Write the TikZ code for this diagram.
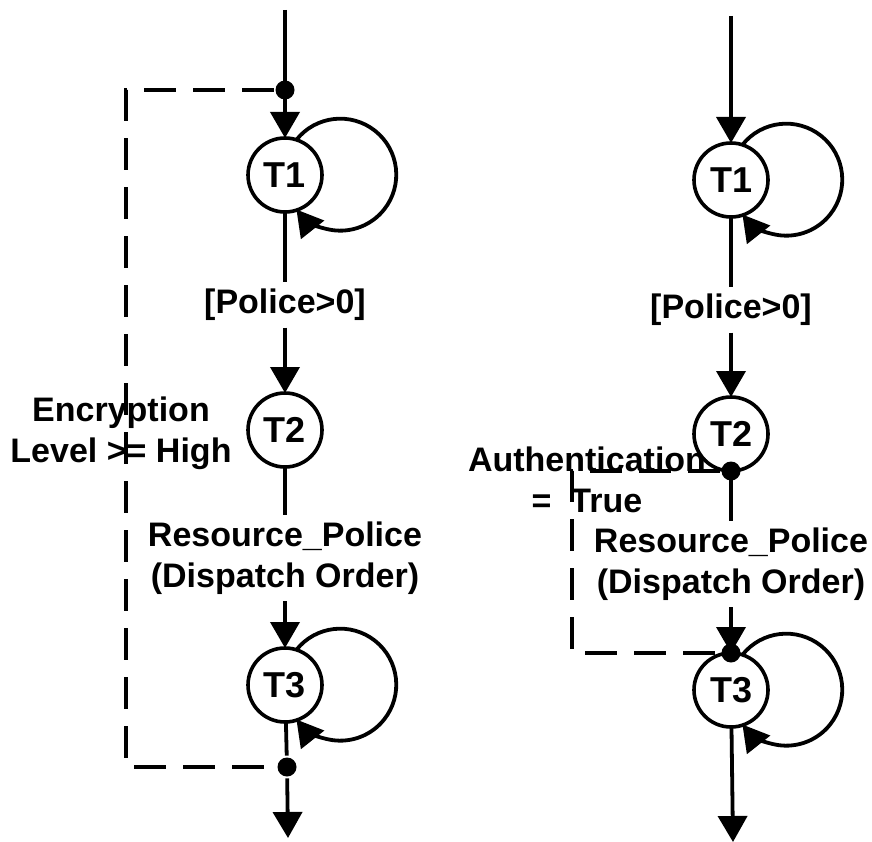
\documentclass[tikz,border=0pt]{standalone}
\usepackage{fontspec}
\setmainfont{Liberation Sans}
\usetikzlibrary{arrows.meta}
\tikzstyle{place}=[circle,draw,line width=3.6pt,minimum size=74pt,inner sep=0pt,outer sep=0pt,font=\fontsize{36}{40}\selectfont\bfseries]
\tikzstyle{lbl}=[font=\fontsize{34}{41}\selectfont\bfseries,align=center,inner sep=5pt]
\tikzstyle{dot}=[circle,fill,inner sep=0pt,minimum size=19pt]
\tikzstyle{dashline}=[line width=3.8pt,dash pattern=on 32pt off 17pt]
\newcommand{\selfloop}[1]{
% loop on the right side of a state
\draw[->] (#1.72) arc[start angle=141.5,end angle=-141.5,radius=56pt];
}

\begin{document}
\begin{tikzpicture}[x=1pt,y=1pt,line width=3.8pt,>={Triangle[width=29pt,length=26pt]}]
	\useasboundingbox (0,0) rectangle (872,-842);
	% left net
	\begin{scope}
	\coordinate (inL) at (285,-10);
	\coordinate (outL) at (288,-838);
	\node[place] (T1L) at (285,-175) {T1};
	\node[place] (T2L) at (285,-430) {T2};
	\node[place] (T3L) at (285,-685) {T3};
	\node[lbl] (pL) at (285,-305) {[Police>0]};
	\node[lbl] (rL) at (285,-558) {Resource\_Police\\(Dispatch Order)};
	\node[lbl] (eL) at (121,-433) {Encryption\\Level >= High};
	\draw[->] (inL) -- (T1L);
	\node[dot] (d1L) at (285,-90) {};
	\node[dot] (d2L) at (287,-767) {};
	\draw (T1L) -- (pL);
	\draw[->] (pL) -- (T2L);
	\draw (T2L) -- (rL);
	\draw[->] (rL) -- (T3L);
	\draw (T3L) -- (d2L);
	\draw[->] (d2L) -- (outL);
	\selfloop{T1L}
	\selfloop{T3L}
	\draw[dashline] (d1L) -- (126,-90) |- (d2L);
	\end{scope}
	% right net
	\begin{scope}
	\coordinate (inR) at (731,-16);
	\coordinate (outR) at (733,-842);
	\node[place] (T1R) at (731,-180) {T1};
	\node[place] (T2R) at (731,-434) {T2};
	\node[place] (T3R) at (731,-690) {T3};
	\node[lbl] (pR) at (731,-310) {[Police>0]};
	\node[lbl] (rR) at (731,-564) {Resource\_Police\\(Dispatch Order)};
	\node[lbl] (aR) at (587,-480) {Authentication\\=\ \ True};
	\draw[->] (inR) -- (T1R);
	\draw (T1R) -- (pR);
	\draw[->] (pR) -- (T2R);
	\draw (T2R) -- (rR);
	\draw[->] (rR) -- (T3R);
	\draw[->] (T3R) -- (outR);
	\selfloop{T1R}
	\selfloop{T3R}
	\node[dot] (d1R) at (T2R.south) {};
	\node[dot] (d2R) at (T3R.north) {};
	\draw[dashline] (d1R) -- (572,-471) |- (d2R);
	\end{scope}
\end{tikzpicture}
\end{document}
